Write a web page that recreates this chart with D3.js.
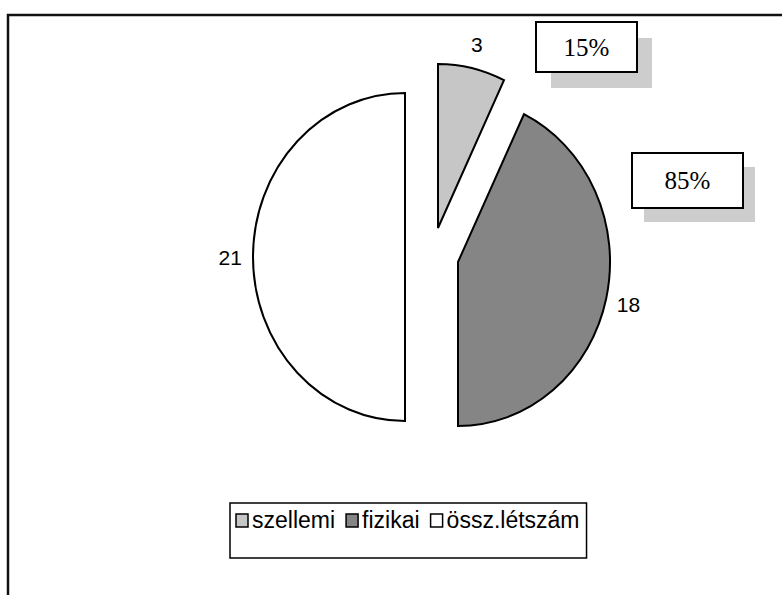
<!DOCTYPE html>
<html>
<head>
<meta charset="utf-8">
<script src="https://cdn.jsdelivr.net/npm/d3@7/dist/d3.min.js"></script>
<style>
  html, body { margin: 0; padding: 0; background: #fff; }
  svg { display: block; }
</style>
</head>
<body>
<svg id="chart" width="782" height="595"></svg>
<script>
var categories = ["szellemi", "fizikai", "össz.létszám"];
var values = [3, 18, 21];
var fills = ["#c6c6c6", "#858585", "#ffffff"];
var noteLabels = ["15%", "85%"];

var svg = d3.select("#chart");
var W = 782, H = 595;

// scanned page: the pie is a bit taller than wide
var rx = 152, ry = 164;
var cx = 405, cy = 257;
// exploded slices, pixel offsets of each slice apex
var explode = [[33, -29], [53, 5], [0, 0]];

// outer frame (only top and left edge are on the page)
svg.append("path")
  .attr("d", "M8," + H + "V15H" + W)
  .attr("fill", "none")
  .attr("stroke", "#111")
  .attr("stroke-width", 2.5);

var pie = d3.pie().sort(null).value(function(d) { return d; });
var arcs = pie(values);
var arc = d3.arc().innerRadius(0).outerRadius(1);

var slice = svg.selectAll("g.slice")
  .data(arcs)
  .enter()
  .append("g")
  .attr("class", "slice")
  .attr("transform", function(d, i) {
    return "translate(" + (cx + explode[i][0]) + "," + (cy + explode[i][1]) + ")";
  });

slice.append("path")
  .attr("d", arc)
  .attr("transform", "scale(" + rx + "," + ry + ")")
  .attr("fill", function(d, i) { return fills[i]; })
  .attr("stroke", "#000")
  .attr("stroke-width", 2)
  .attr("stroke-linejoin", "miter")
  .attr("vector-effect", "non-scaling-stroke");

slice.append("text")
  .attr("x", function(d) {
    var a = (d.startAngle + d.endAngle) / 2;
    return Math.sin(a) * rx * 1.15;
  })
  .attr("y", function(d) {
    var a = (d.startAngle + d.endAngle) / 2;
    return -Math.cos(a) * ry * 1.15;
  })
  .attr("dy", "0.36em")
  .attr("text-anchor", "middle")
  .attr("font-family", "Liberation Sans, Arial, sans-serif")
  .attr("font-size", "21px")
  .attr("fill", "#000")
  .text(function(d) { return d.data; });

// the two percentage text boxes with their grey shadows
var notes = [
  { x: 536, y: 22, w: 101, h: 50, sx: 15, sy: 16 },
  { x: 632, y: 153, w: 111, h: 55, sx: 12, sy: 14 }
];

var note = svg.selectAll("g.note")
  .data(notes)
  .enter()
  .append("g")
  .attr("class", "note");

note.append("rect")
  .attr("x", function(d) { return d.x + d.sx; })
  .attr("y", function(d) { return d.y + d.sy; })
  .attr("width", function(d) { return d.w; })
  .attr("height", function(d) { return d.h; })
  .attr("fill", "#cdcdcd");

note.append("rect")
  .attr("x", function(d) { return d.x; })
  .attr("y", function(d) { return d.y; })
  .attr("width", function(d) { return d.w; })
  .attr("height", function(d) { return d.h; })
  .attr("fill", "#fff")
  .attr("stroke", "#000")
  .attr("stroke-width", 2);

note.append("text")
  .attr("x", function(d) { return d.x + d.w / 2; })
  .attr("y", function(d) { return d.y + d.h / 2; })
  .attr("dy", "0.35em")
  .attr("text-anchor", "middle")
  .attr("font-family", "Liberation Serif, Times New Roman, serif")
  .attr("font-size", "25px")
  .attr("fill", "#000")
  .text(function(d, i) { return noteLabels[i]; });

// legend
var legend = svg.append("g").attr("class", "legend");
var legendBox = legend.append("rect")
  .attr("fill", "#fff")
  .attr("stroke", "#000")
  .attr("stroke-width", 1.5);

var lx = 236, ly = 528;
categories.forEach(function(name, i) {
  legend.append("rect")
    .attr("x", lx)
    .attr("y", ly - 14)
    .attr("width", 12)
    .attr("height", 13)
    .attr("fill", fills[i])
    .attr("stroke", "#000")
    .attr("stroke-width", 1.5);
  var t = legend.append("text")
    .attr("x", lx + 16)
    .attr("y", ly)
    .attr("font-family", "Liberation Sans, Arial, sans-serif")
    .attr("font-size", "23px")
    .attr("fill", "#000")
    .text(name);
  lx += 16 + t.node().getComputedTextLength() + 11;
});

legendBox
  .attr("x", 230)
  .attr("y", 503)
  .attr("width", lx - 11 + 7 - 230)
  .attr("height", 55);
</script>
</body>
</html>
